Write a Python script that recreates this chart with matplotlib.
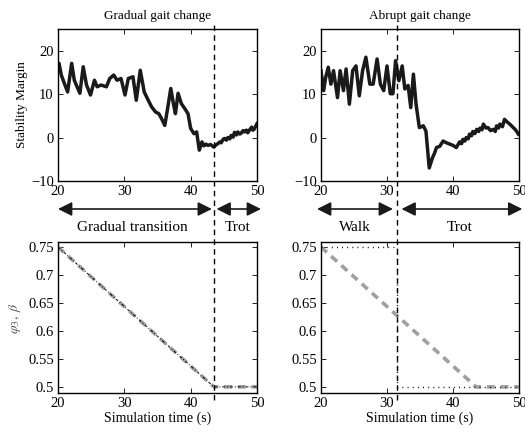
import numpy as np
import matplotlib
matplotlib.use('Agg')
import matplotlib.pyplot as plt
from matplotlib.lines import Line2D
import matplotlib.transforms as mtransforms

plt.rcParams['font.family'] = ['Liberation Serif', 'DejaVu Serif']
plt.rcParams['mathtext.fontset'] = 'stix'

# stability margin, gradual gait change
t_grad = [20.0, 20.15, 20.5, 20.95, 21.45, 22.06, 22.46, 22.76, 23.3, 23.8, 24.3, 24.9,
          25.5, 25.9, 26.5, 27.3, 27.8, 28.4, 28.9, 29.5, 30.1, 30.6, 31.3, 31.8, 32.4,
          33.0, 33.6, 34.1, 34.7, 35.2, 35.6, 36.1, 36.6, 37.0, 37.4, 37.7, 38.1, 38.6,
          39.1, 39.6, 40.0, 40.5, 40.9, 41.3, 41.7, 42.0, 42.3, 42.6, 43.0, 43.5, 43.8,
          44.1, 44.4, 44.6, 44.9, 45.1, 45.4, 45.6, 45.9, 46.1, 46.4, 46.6, 46.9, 47.1,
          47.4, 47.6, 47.9, 48.1, 48.4, 48.6, 48.9, 49.2, 49.4, 49.6, 49.8, 50.0]
sm_grad = [16.5, 17.1, 14.4, 12.5, 10.5, 17.1, 13.2, 12.1, 10.2, 16.3, 12.1, 9.8,
           13.2, 11.7, 12.1, 11.7, 13.6, 14.4, 13.2, 13.6, 9.8, 13.6, 14.0, 8.6, 15.5,
           10.5, 8.6, 7.1, 5.9, 5.5, 4.4, 2.8, 7.4, 11.3, 7.8, 5.5, 10.2, 7.8,
           6.7, 5.5, 2.1, 0.9, 1.3, -2.9, -1.0, -1.9, -1.5, -1.8, -1.6, -2.2, -1.7,
           -1.4, -1.0, -1.2, -0.4, -0.2, -0.6, 0.0, -0.3, 0.5, 0.1, 1.2, 0.6, 1.3,
           0.8, 1.0, 1.6, 1.3, 1.7, 1.1, 1.8, 2.4, 1.7, 2.0, 2.6, 3.2]

# stability margin, abrupt gait change
t_abr = [20.0, 20.4, 20.7, 21.1, 21.5, 21.9, 22.5, 22.9, 23.4, 23.8, 24.3, 24.8, 25.3,
         25.8, 26.3, 26.8, 27.4, 27.9, 28.5, 29.0, 29.5, 30.0, 30.5, 30.9, 31.3, 31.8,
         32.3, 32.7, 33.2, 33.6, 34.0, 34.4, 34.9, 35.5, 35.9, 36.4, 36.9, 37.2, 37.5,
         38.0, 38.5, 39.0, 39.5, 40.0, 40.5, 41.0, 41.3, 41.5, 41.8, 42.0, 42.3, 42.5,
         42.8, 43.0, 43.3, 43.6, 43.9, 44.1, 44.4, 44.6, 45.0, 45.3, 45.7, 46.1, 46.4,
         46.6, 46.9, 47.1, 47.5, 47.8, 48.2, 48.6, 49.0, 49.4, 49.7, 49.9]
sm_abr = [15.4, 10.8, 13.8, 16.2, 12.3, 15.4, 9.2, 15.4, 10.8, 15.8, 7.7, 15.4, 16.5,
          9.6, 15.4, 18.5, 12.3, 12.3, 18.1, 12.3, 10.8, 16.5, 10.1, 10.1, 17.7, 13.1,
          16.5, 11.2, 12.0, 6.9, 14.6, 7.7, 2.3, 2.7, 1.5, -7.0, -4.6, -3.6, -2.3,
          -2.0, -0.8, -1.2, -1.5, -1.8, -2.3, -1.0, -1.4, -0.4, -0.8, 0.0, -0.3, 0.8,
          0.4, 1.4, 0.9, 1.9, 1.4, 2.2, 1.8, 3.1, 2.2, 2.3, 1.6, 1.9, 1.4, 2.7, 2.2,
          3.1, 2.5, 4.2, 3.6, 3.1, 2.5, 1.9, 1.3, 0.8]

# gait parameters
t_beta = [20, 43.5, 50]
beta = [0.75, 0.5, 0.5]
t_phi_abr = [20, 31.5, 31.5, 50]
phi_abr = [0.75, 0.75, 0.5, 0.5]

t_switch = [43.5, 31.5]
titles = ['Gradual gait change', 'Abrupt gait change']

fig = plt.figure(figsize=(5.25, 4.34), dpi=100)
W, H = 525, 434

def px_axes(x0, y0, x1, y1):
    return fig.add_axes([x0 / W, 1 - y1 / H, (x1 - x0) / W, (y1 - y0) / H])

ax_tl = px_axes(58, 29, 257, 181)
ax_tr = px_axes(321, 29, 519, 181)
ax_bl = px_axes(58, 242, 257, 393)
ax_br = px_axes(321, 242, 519, 393)

for ax in [ax_tl, ax_tr, ax_bl, ax_br]:
    ax.set_xlim(20, 50)
    ax.set_xticks([20, 30, 40, 50])
    ax.tick_params(direction='in', top=True, right=True, length=3.5, width=0.6,
                   labelsize=10.5, pad=3)
    for s in ax.spines.values():
        s.set_linewidth(1.0)

ax_tl.plot(t_grad, sm_grad, color='#1a1a1a', lw=2.5, solid_joinstyle='round')
ax_tr.plot(t_abr, sm_abr, color='#1a1a1a', lw=2.5, solid_joinstyle='round')
for ax, title in zip([ax_tl, ax_tr], titles):
    ax.set_ylim(-10, 25)
    ax.set_yticks([-10, 0, 10, 20])
    ax.set_title(title, fontsize=9.5, pad=7)
ax_tl.set_ylabel('Stability Margin', fontsize=9.5, labelpad=2)

yt = [0.5, 0.55, 0.6, 0.65, 0.7, 0.75]
for ax in [ax_bl, ax_br]:
    ax.set_ylim(0.489, 0.759)
    ax.set_yticks(yt)
    ax.set_yticklabels(['%g' % v for v in yt])
    ax.set_xlabel('Simulation time (s)', fontsize=10, labelpad=1)
    ax.plot(t_beta, beta, color='#a0a0a0', lw=2.6, dashes=(2.2, 1.6))
ax_bl.plot(t_beta, beta, color='black', lw=0.7, dashes=(3, 2, 1, 2))
ax_br.plot(t_phi_abr, phi_abr, color='black', lw=1.0, dashes=(0.7, 3.0))
ax_bl.set_ylabel(r'$\varphi_3,\ \beta$', fontsize=10, color='#555555', labelpad=4)

# vertical dashed switch lines across the figure
for ax, ts in zip([ax_tl, ax_tr], t_switch):
    tr = mtransforms.blended_transform_factory(ax.transData, fig.transFigure)
    fig.add_artist(Line2D([ts, ts], [1 - 25 / H, 1 - 400 / H], transform=tr,
                          color='black', lw=1.0, dashes=(4, 3)))

# double arrows between rows
y_arr = 1 - 209 / H
arrows = [(ax_tl, 20.0, 43.2), (ax_tl, 43.9, 50.6), (ax_tr, 19.4, 30.9), (ax_tr, 32.2, 50.5)]
for ax, a, b in arrows:
    tr = mtransforms.blended_transform_factory(ax.transData, fig.transFigure)
    fig.add_artist(matplotlib.patches.FancyArrowPatch(
        (a, y_arr), (b, y_arr), transform=tr, arrowstyle='<|-|>,head_length=0.7,head_width=0.35',
        mutation_scale=12, color='#1a1a1a', lw=1.2, shrinkA=0, shrinkB=0))

y_txt = 1 - 228 / H
labels = [(132, 'Gradual transition'), (238, 'Trot'), (355, 'Walk'), (460, 'Trot')]
for x, s in labels:
    fig.text(x / W, y_txt, s, ha='center', va='center', fontsize=11)

fig.savefig('out.png', dpi=100)
